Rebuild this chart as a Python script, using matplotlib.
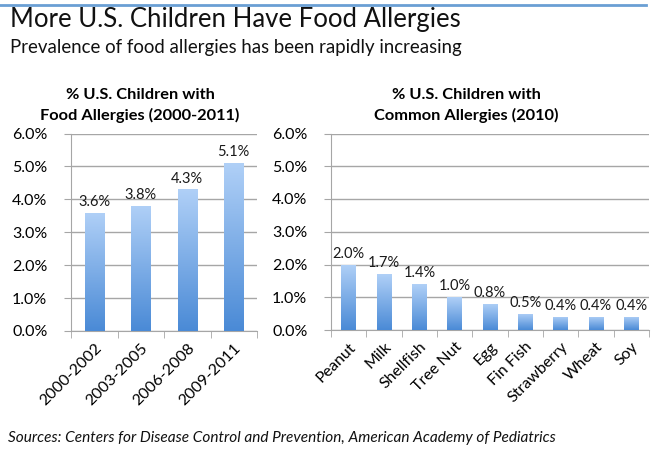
import matplotlib
matplotlib.use("Agg")
import matplotlib.pyplot as plt
import numpy as np
from matplotlib.colors import LinearSegmentedColormap

periods = ["2000-2002", "2003-2005", "2006-2008", "2009-2011"]
period_vals = [3.6, 3.8, 4.3, 5.1]
foods = ["Peanut", "Milk", "Shellfish", "Tree Nut", "Egg", "Fin Fish", "Strawberry", "Wheat", "Soy"]
food_vals = [2.0, 1.7, 1.4, 1.0, 0.8, 0.5, 0.4, 0.4, 0.4]
yticks = [0, 1, 2, 3, 4, 5, 6]

FONT = "Lato"
plt.rcParams['font.family'] = [FONT, 'DejaVu Sans']

W, H = 656, 450
fig = plt.figure(figsize=(W/100, H/100), dpi=100)

def fx(px): return px / W
def fy(py): return 1 - py / H

cmap = LinearSegmentedColormap.from_list("g", ["#4a8ad6", "#b0d0f7"])
grid_c = "#a6a6a6"

def draw(ax, cats, vals, width):
    x = np.arange(len(cats))
    bars = ax.bar(x, vals, width=width, color="none", edgecolor="none", zorder=3)
    grad = np.linspace(0, 1, 256).reshape(-1, 1)
    for b, v in zip(bars, vals):
        im = ax.imshow(grad, cmap=cmap, aspect="auto", origin="lower",
                       extent=[b.get_x(), b.get_x() + b.get_width(), 0, v], zorder=3)
        im.set_clip_path(b)
        ax.text(b.get_x() + b.get_width()/2, v + 0.12, f"{v:.1f}%", ha="center", va="bottom",
                fontsize=10.5, color="#1a1a1a", zorder=4)
    ax.set_xlim(-0.5, len(cats) - 0.5)
    ax.set_ylim(0, 6)
    ax.set_yticks(yticks)
    ax.set_yticklabels([f"{t:.1f}%" for t in yticks], fontsize=11.5)
    ax.set_xticks(x)
    ax.set_xticklabels(cats, rotation=45, ha="right", rotation_mode="anchor", fontsize=11.5)
    ax.tick_params(axis="x", length=0, pad=7)
    ax.set_xticks(np.arange(len(cats) + 1) - 0.5, minor=True)
    ax.tick_params(axis="x", which="minor", length=5, color=grid_c)
    ax.tick_params(axis="y", length=5, color=grid_c, pad=12)
    ax.yaxis.grid(True, color=grid_c, linewidth=1, zorder=0)
    ax.set_axisbelow(True)
    for s in ["top", "right"]:
        ax.spines[s].set_visible(False)
    for s in ["left", "bottom"]:
        ax.spines[s].set_color(grid_c)
    ax.set_facecolor("white")

ax1 = fig.add_axes([fx(71), fy(331), fx(257 - 71), (331 - 133.5) / H])
draw(ax1, periods, period_vals, 0.41)
ax2 = fig.add_axes([fx(331), fy(330), fx(649 - 331), (330 - 133.5) / H])
draw(ax2, foods, food_vals, 0.42)

# top rule
fig.add_artist(plt.Line2D([0, fx(646)], [fy(5), fy(5)], color="#6a9fd4", linewidth=2))

fig.text(fx(10), fy(20), "More U.S. Children Have Food Allergies", fontsize=18.5, va="center", color="#111111")
fig.text(fx(10), fy(48), "Prevalence of food allergies has been rapidly increasing", fontsize=13.4, va="center", color="#111111")

tfs = 11.8
fig.text(fx(140), fy(99), "% U.S. Children with", fontsize=tfs, fontweight="bold", ha="center", va="baseline")
fig.text(fx(140), fy(120), "Food Allergies (2000-2011)", fontsize=tfs, fontweight="bold", ha="center", va="baseline")
fig.text(fx(466), fy(99), "% U.S. Children with", fontsize=tfs, fontweight="bold", ha="center", va="baseline")
fig.text(fx(466), fy(120), "Common Allergies (2010)", fontsize=tfs, fontweight="bold", ha="center", va="baseline")

fig.text(fx(8), fy(438), "Sources: Centers for Disease Control and Prevention, American Academy of Pediatrics",
         fontsize=11.1, style="italic", va="center", color="#111111")

fig.savefig("out.png", dpi=100)
